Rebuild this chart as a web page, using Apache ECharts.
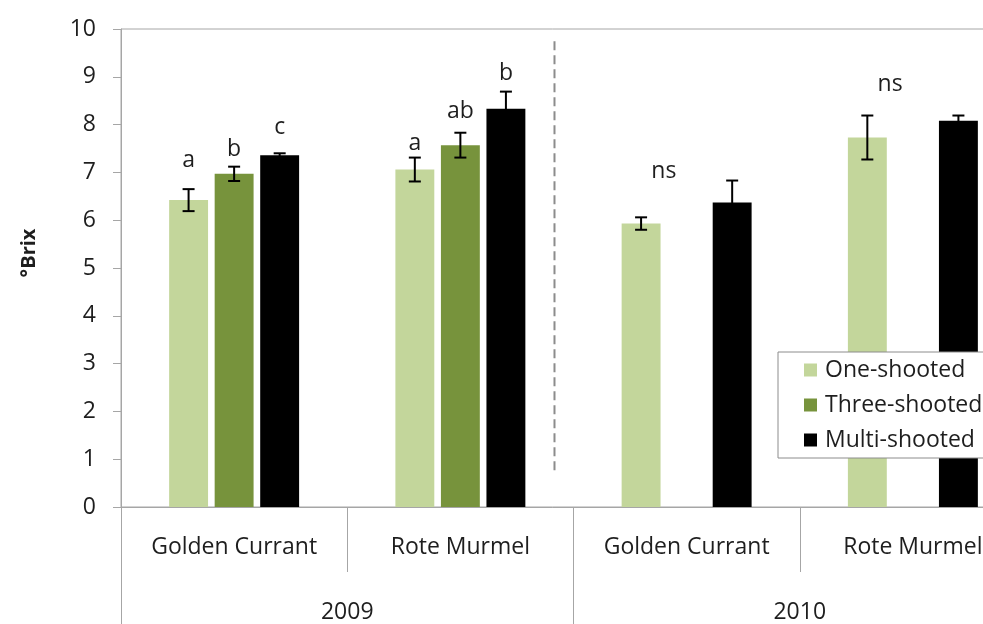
<!DOCTYPE html>
<html>
<head>
<meta charset="utf-8">
<script src="https://cdn.jsdelivr.net/npm/echarts@6/dist/echarts.min.js"></script>
<style>
html,body{margin:0;padding:0;background:#fff;}
#chart{width:983px;height:624px;}
</style>
</head>
<body>
<div id="chart"></div>
<script>
// ---- data ----
const cultivars = ['Golden Currant', 'Rote Murmel', 'Golden Currant', 'Rote Murmel'];
const years = ['2009', '2010'];
const seriesNames = ['One-shooted', 'Three-shooted', 'Multi-shooted'];
const oneShooted   = [6.42, 7.06, 5.93, 7.73];
const threeShooted = [6.97, 7.57, null, null];
const multiShooted = [7.36, 8.33, 6.37, 8.08];
const oneErr   = [0.23, 0.25, 0.13, 0.46];
const threeErr = [0.15, 0.26, null, null];
const multiErr = [0.04, 0.36, 0.46, 0.11];
// significance letters: [category index, series slot, y (°Brix), text]
const letters = [
  [0, 0, 7.24, 'a'], [0, 1, 7.48, 'b'], [0, 2, 7.95, 'c'],
  [1, 0, 7.60, 'a'], [1, 1, 8.28, 'ab'], [1, 2, 9.07, 'b'],
  [2, 0.5, 7.01, 'ns'], [3, 0.5, 8.83, 'ns']
];
// dashed separator between years (value-x position, y from, y to)
const separator = [[1.916, 0.77], [1.916, 9.83]];
const yTicks = [0, 10, 1]; // min, max, interval

// ---- build ----
const colors = ['#c3d69b', '#77933c', '#000000'];
const values = [oneShooted, threeShooted, multiShooted];
const errs = [oneErr, threeErr, multiErr];
const FONT = '"Open Sans", sans-serif';
const TXT = '#1e1e1e';
const AX = '#a6a6a6';
const FS = 23;
const SLOT = 0.2013; // bar centre spacing as fraction of band

const errData = [];
values.forEach((arr, s) => arr.forEach((v, i) => {
  if (v != null) errData.push([i, v, errs[s][i], s]);
}));

const bars = seriesNames.map((n, s) => ({
  name: n, type: 'bar', xAxisIndex: 0, yAxisIndex: 0,
  data: values[s], barWidth: '17.2%', barGap: '17%',
  itemStyle: { color: colors[s] }, z: 2
}));

const option = {
  animation: false,
  backgroundColor: '#fff',
  textStyle: { fontFamily: FONT },
  grid: { left: 121, top: 29, width: 905, height: 478, show: true, borderColor: AX, borderWidth: 1,
          backgroundColor: 'transparent', outerBoundsMode: 'none', containLabel: false },
  legend: {
    orient: 'vertical', left: 778, top: 352,
    data: seriesNames,
    itemWidth: 13, itemHeight: 13, itemGap: 9,
    icon: 'rect',
    backgroundColor: '#fff', borderColor: '#8c8c8c', borderWidth: 1, borderRadius: 0,
    padding: [5, 40, 5, 26],
    textStyle: { fontFamily: FONT, fontSize: FS, color: TXT, lineHeight: 26, padding: [0, 0, 0, 3] },
    z: 10
  },
  xAxis: [
    {
      type: 'category', data: cultivars, position: 'bottom', gridIndex: 0,
      axisLine: { show: true, lineStyle: { color: AX, width: 1 } },
      axisTick: { show: true, interval: 0, alignWithLabel: false, length: 65, lineStyle: { color: AX, width: 1 } },
      axisLabel: { fontFamily: FONT, fontSize: FS, color: TXT, margin: 29, interval: 0 },
      splitLine: { show: false }
    },
    {
      type: 'category', data: years, position: 'bottom', gridIndex: 0,
      axisLine: { show: false },
      axisTick: { show: true, interval: 0, alignWithLabel: false, length: 125, lineStyle: { color: AX, width: 1 } },
      axisLabel: { fontFamily: FONT, fontSize: FS, color: TXT, margin: 94, interval: 0 },
      splitLine: { show: false }
    },
    {
      type: 'value', position: 'top', min: 0, max: 4, show: false, gridIndex: 0
    }
  ],
  yAxis: {
    type: 'value', min: yTicks[0], max: yTicks[1], interval: yTicks[2],
    name: '°Brix', nameLocation: 'middle', nameGap: 82, nameRotate: 90,
    nameTextStyle: { fontFamily: FONT, fontSize: 20, fontWeight: 'bold', color: TXT, padding: [0, 0, 0, 30] },
    axisLine: { show: true, lineStyle: { color: AX } },
    axisTick: { show: true, length: 8, lineStyle: { color: AX } },
    axisLabel: { fontFamily: FONT, fontSize: FS, color: TXT, margin: 25 },
    splitLine: { show: false }
  },
  series: bars.concat([
    {
      type: 'custom', name: 'err', xAxisIndex: 0, yAxisIndex: 0, z: 3,
      data: errData, encode: { x: 0, y: 1 },
      renderItem: function (params, api) {
        const cat = api.value(0), v = api.value(1), e = api.value(2), s = api.value(3);
        const band = api.size([1, 0])[0];
        const c = api.coord([cat, v]);
        const x = c[0] + (s - 1) * SLOT * band;
        const yt = api.coord([cat, v + e])[1];
        const yb = api.coord([cat, v - e])[1];
        const st = { stroke: '#000', lineWidth: 2 };
        return {
          type: 'group', children: [
            { type: 'line', shape: { x1: x, y1: yt, x2: x, y2: yb }, style: st },
            { type: 'line', shape: { x1: x - 6, y1: yt, x2: x + 6, y2: yt }, style: st },
            { type: 'line', shape: { x1: x - 6, y1: yb, x2: x + 6, y2: yb }, style: st }
          ]
        };
      }
    },
    {
      type: 'custom', name: 'letters', xAxisIndex: 0, yAxisIndex: 0, z: 3,
      data: letters, encode: { x: 0, y: 2 },
      renderItem: function (params, api) {
        const cat = api.value(0), s = api.value(1), y = api.value(2);
        const band = api.size([1, 0])[0];
        const c = api.coord([cat, y]);
        return {
          type: 'text',
          style: {
            x: c[0] + (s - 1) * SLOT * band, y: c[1],
            text: letters[params.dataIndex][3],
            fill: TXT, font: FS + 'px ' + FONT, align: 'center', verticalAlign: 'middle'
          }
        };
      }
    },
    {
      type: 'line', name: 'sep', xAxisIndex: 2, yAxisIndex: 0, z: 1,
      data: separator, symbol: 'none',
      lineStyle: { color: '#8c8c8c', width: 2, type: [9, 5] }
    }
  ])
};
const chart = echarts.init(document.getElementById('chart'), null, { renderer: 'canvas' });
chart.setOption(option);
</script>
</body>
</html>
